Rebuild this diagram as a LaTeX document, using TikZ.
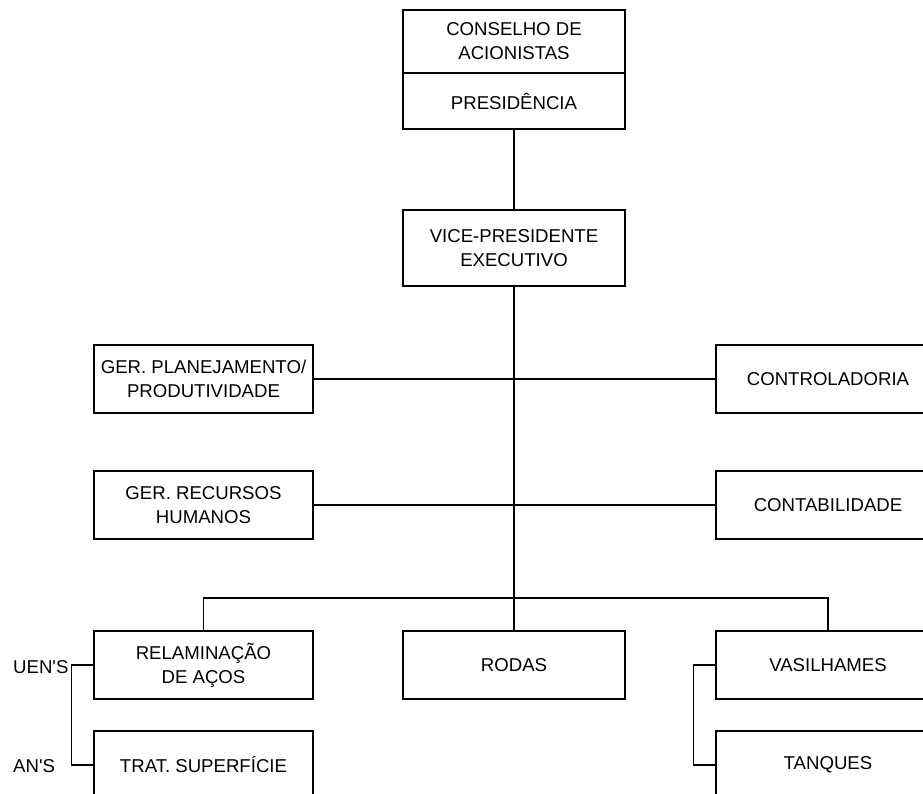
\documentclass[tikz,border=0pt]{standalone}
\usepackage{fontspec}
\setmainfont{Liberation Sans}
\usepackage{tikz}
\usetikzlibrary{positioning}

\begin{document}
\begin{tikzpicture}[
		x=1pt, y=-1pt,
		box/.style={
			draw,
			line width=1.4pt,
			align=center,
			inner sep=0pt,
			font=\fontsize{18.6}{24}\selectfont,
			minimum width=219pt,
			minimum height=68pt
		},
		midbox/.style={
			box,
			minimum width=222pt
		},
		rightbox/.style={
			box,
			minimum width=224pt
		},
		label/.style={
			font=\fontsize{18.6}{24}\selectfont,
			anchor=west,
			inner sep=0pt
		},
		line/.style={
			line width=1.4pt
		}
		]
		\useasboundingbox (0,0) rectangle (923,794);
		
		% Topo
		\node[midbox, minimum height=63pt] (conselho) at (514,41.5) {CONSELHO DE\\ACIONISTAS};
		\node[midbox, minimum height=56pt] (presid) at (514,101) {PRESID\^ENCIA};
		\node[midbox, minimum height=76pt] (vp) at (514,248) {VICE-PRESIDENTE\\EXECUTIVO};
		
		% Assessorias
		\node[box] (gerplan) at (203.5,379) {GER. PLANEJAMENTO/\\PRODUTIVIDADE};
		\node[rightbox] (control) at (828,379) {CONTROLADORIA};
		\node[box] (gerrh) at (203.5,505) {GER. RECURSOS\\HUMANOS};
		\node[rightbox] (contab) at (828,505) {CONTABILIDADE};
		
		% Unidades
		\node[box] (relam) at (203.5,665) {RELAMINA\c{C}\~AO\\DE A\c{C}OS};
		\node[midbox] (rodas) at (514,665) {RODAS};
		\node[rightbox] (vasil) at (828,665) {VASILHAMES};
		\node[box] (trat) at (203.5,765) {TRAT. SUPERF\'ICIE};
		\node[rightbox] (tanques) at (828,765) {TANQUES};
		
		% Rotulos
		\node[label] (uens) at (13,667) {UEN\textquotesingle S};
		\node[label] (ans) at (13,766) {AN\textquotesingle S};
		
		\coordinate (bus) at (514,598);
		
		% Ligacoes principais
		\draw[line] (presid) -- (vp);
		\draw[line] (vp) -- (rodas);
		\draw[line] (gerplan) -- (control);
		\draw[line] (gerrh) -- (contab);
		\draw[line] (relam.north) |- (bus) -| (vasil.north);
		
		% Ligacoes das unidades
		\draw[line] (relam.west) -- ++(-22,0) |- (trat.west);
		\draw[line] (vasil.west) -- ++(-22,0) |- (tanques.west);
		
	\end{tikzpicture}
\end{document}
